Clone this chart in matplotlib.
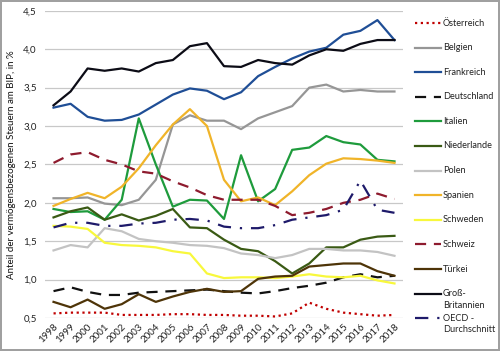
import matplotlib
matplotlib.use("Agg")
import matplotlib.pyplot as plt
from matplotlib.lines import Line2D

years = [str(y) for y in range(1998, 2019)]

oesterreich = [0.56, 0.57, 0.57, 0.57, 0.54, 0.54, 0.54, 0.55, 0.55, 0.54, 0.54, 0.53, 0.53, 0.52, 0.56, 0.70, 0.62, 0.57, 0.55, 0.53, 0.54]
belgien = [2.06, 2.06, 2.07, 1.99, 1.97, 2.04, 2.30, 3.02, 3.14, 3.07, 3.07, 2.96, 3.10, 3.18, 3.26, 3.50, 3.54, 3.45, 3.47, 3.45, 3.45]
frankreich = [3.24, 3.29, 3.12, 3.07, 3.08, 3.15, 3.28, 3.41, 3.49, 3.46, 3.35, 3.44, 3.65, 3.77, 3.88, 3.97, 4.02, 4.19, 4.24, 4.38, 4.12]
deutschland = [0.85, 0.90, 0.84, 0.80, 0.80, 0.83, 0.84, 0.85, 0.86, 0.87, 0.85, 0.83, 0.82, 0.85, 0.89, 0.92, 0.96, 1.03, 1.07, 1.03, 1.05]
italien = [1.92, 1.88, 1.89, 1.78, 2.04, 3.10, 2.50, 1.95, 2.04, 2.03, 1.79, 2.62, 2.02, 2.18, 2.69, 2.72, 2.87, 2.79, 2.76, 2.56, 2.54]
niederlande = [1.81, 1.89, 1.94, 1.78, 1.85, 1.77, 1.83, 1.92, 1.68, 1.67, 1.52, 1.40, 1.37, 1.24, 1.08, 1.21, 1.42, 1.42, 1.52, 1.56, 1.57]
polen = [1.38, 1.45, 1.42, 1.67, 1.63, 1.53, 1.50, 1.48, 1.45, 1.44, 1.41, 1.34, 1.32, 1.28, 1.32, 1.40, 1.40, 1.38, 1.38, 1.36, 1.31]
spanien = [1.96, 2.05, 2.13, 2.06, 2.21, 2.45, 2.75, 3.02, 3.22, 3.00, 2.30, 2.02, 2.07, 1.97, 2.15, 2.36, 2.51, 2.58, 2.57, 2.55, 2.52]
schweden = [1.70, 1.69, 1.66, 1.48, 1.45, 1.44, 1.42, 1.37, 1.34, 1.08, 1.02, 1.03, 1.03, 1.02, 1.04, 1.07, 1.04, 1.03, 1.05, 0.99, 0.95]
schweiz = [2.52, 2.63, 2.66, 2.56, 2.50, 2.41, 2.38, 2.28, 2.20, 2.10, 2.04, 2.04, 2.04, 1.96, 1.84, 1.87, 1.92, 2.00, 2.04, 2.12, 2.05]
tuerkei = [0.71, 0.64, 0.74, 0.62, 0.68, 0.81, 0.71, 0.78, 0.84, 0.88, 0.84, 0.85, 1.01, 1.04, 1.05, 1.17, 1.19, 1.21, 1.21, 1.11, 1.05]
grossbritannien = [3.27, 3.45, 3.75, 3.72, 3.75, 3.71, 3.82, 3.86, 4.04, 4.08, 3.78, 3.77, 3.86, 3.82, 3.80, 3.92, 4.00, 3.98, 4.07, 4.12, 4.12]
oecd = [1.68, 1.74, 1.74, 1.70, 1.70, 1.73, 1.74, 1.78, 1.79, 1.77, 1.69, 1.67, 1.67, 1.71, 1.78, 1.81, 1.84, 1.91, 2.29, 1.91, 1.87]

yticks = [0.5, 1.0, 1.5, 2.0, 2.5, 3.0, 3.5, 4.0, 4.5]
ytick_labels = ["0,5", "1,0", "1,5", "2,0", "2,5", "3,0", "3,5", "4,0", "4,5"]

series = [
    ("Österreich", oesterreich, "#C00000", (0, (1, 1.6)), 1.6),
    ("Belgien", belgien, "#969696", "-", 1.6),
    ("Frankreich", frankreich, "#1F4E96", "-", 1.6),
    ("Deutschland", deutschland, "#111111", (0, (5, 3.5)), 1.6),
    ("Italien", italien, "#1E9B3C", "-", 1.6),
    ("Niederlande", niederlande, "#3A5A14", "-", 1.6),
    ("Polen", polen, "#C3C3C3", "-", 1.6),
    ("Spanien", spanien, "#F0B429", "-", 1.6),
    ("Schweden", schweden, "#F8F83C", "-", 1.6),
    ("Schweiz", schweiz, "#8E1B2E", (0, (5, 3.5)), 1.6),
    ("Türkei", tuerkei, "#4E3408", "-", 1.6),
    ("Groß-\nBritannien", grossbritannien, "#0C0C16", "-", 1.6),
    ("OECD -\nDurchschnitt", oecd, "#1E1A6A", (0, (6, 4, 1, 4)), 1.6),
]

plt.rcParams['font.family'] = ['Lato', 'DejaVu Sans']

W, H = 500, 351
fig = plt.figure(figsize=(W / 100, H / 100), dpi=100)
fig.patch.set_facecolor("white")
fig.patch.set_edgecolor("#A0A0A0")
fig.patch.set_linewidth(1.5)

ax = fig.add_axes([0.09, 0.094, 0.716, 0.875])
x = list(range(len(years)))

for name, vals, col, ls, lw in series:
    ax.plot(x, vals, color=col, linestyle=ls, linewidth=lw, label=name, zorder=3)

ax.set_xlim(-0.5, len(years) - 0.5)
ax.set_ylim(0.5, 4.5)
ax.set_yticks(yticks)
ax.set_yticklabels(ytick_labels)
ax.set_xticks(x)
ax.set_xticklabels(years, rotation=45, ha="right", rotation_mode="anchor")
ax.tick_params(axis="both", length=0, labelsize=7, colors="#222222")
ax.tick_params(axis="x", pad=3)
ax.tick_params(axis="y", pad=6)
ax.grid(axis="y", color="#C8C8C8", linewidth=0.9, zorder=0)
for s in ax.spines.values():
    s.set_visible(False)

ax.set_ylabel("Anteil der vermögensbezogenen Steuern am BIP, in %", fontsize=7, color="#111111", labelpad=5)

# manual legend (figure pixel layout)
leg_top, leg_step = 23, 24.6
for i, (name, vals, col, ls, lw) in enumerate(series):
    yp = leg_top + i * leg_step
    yf = 1 - yp / H
    fig.add_artist(Line2D([415 / W, 441 / W], [yf, yf], color=col, linestyle=ls,
                          linewidth=lw, transform=fig.transFigure))
    for j, part in enumerate(name.split("\n")):
        fig.text(443 / W, 1 - (yp + j * 11.5) / H, part, fontsize=6.6, color="#222222",
                 ha="left", va="center")

fig.savefig("out.png", dpi=100)
